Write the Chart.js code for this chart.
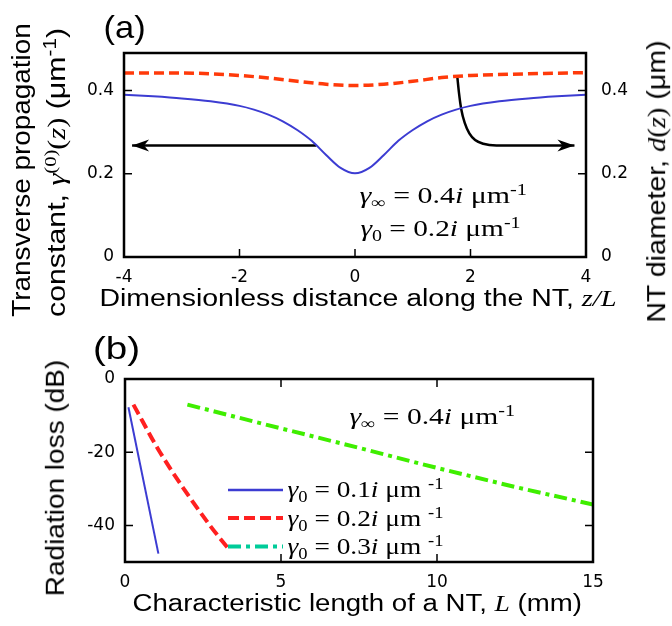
<!DOCTYPE html>
<html>
<head>
<meta charset="utf-8">
<script src="https://cdn.jsdelivr.net/npm/chart.js@4.4.1/dist/chart.umd.min.js"></script>
<style>
  html, body { margin: 0; padding: 0; background: #fff; }
  #fig { position: relative; width: 672px; height: 626px; overflow: hidden; }
  canvas { position: absolute; left: 0; }
  .lbl { position: absolute; white-space: nowrap; line-height: 1; color: #000;
         font-family: "Liberation Sans", Arial, sans-serif; transform-origin: 50% 50%; }
  .serif { font-family: "Liberation Serif", "Times New Roman", serif; }
  .it { font-style: italic; font-family: "Liberation Serif", "Times New Roman", serif; }
  .lbl sub, .lbl sup { font-size: 0.68em; position: relative; vertical-align: baseline; }
  .lbl sub { top: 0.3em; }
  .lbl sup { top: -0.5em; }
  svg { position: absolute; left: 0; top: 0; }
</style>
</head>
<body>
<div id="fig">
  <canvas id="chartA" width="672" height="320" style="top:0"></canvas>
  <canvas id="chartB" width="672" height="306" style="top:320px"></canvas>

  <div class="lbl" id="labA" style="font-size:32px">(a)</div>
  <div class="lbl" id="ytA1" style="font-size:26px">Transverse propagation</div>
  <div class="lbl" id="ytA2" style="font-size:26px">constant, <span class="it">γ</span><sup class="serif">(0)</sup><span class="serif">(</span><span class="it">z</span><span class="serif">)</span> (μm<sup>-1</sup>)</div>
  <div class="lbl" id="ytA3" style="font-size:26px">NT diameter, <span class="it">d</span><span class="serif">(</span><span class="it">z</span><span class="serif">)</span> (μm)</div>
  <div class="lbl" id="xtA" style="font-size:23px">Dimensionless distance along the NT, <span class="it">z/L</span></div>
  <div class="lbl serif" id="mA1" style="font-size:24px"><i>γ</i><sub>∞</sub> = 0.4<i>i</i> μm<sup>-1</sup></div>
  <div class="lbl serif" id="mA2" style="font-size:24px"><i>γ</i><sub>0</sub> = 0.2<i>i</i> μm<sup>-1</sup></div>

  <div class="lbl" id="labB" style="font-size:32px">(b)</div>
  <div class="lbl" id="ytB" style="font-size:26px">Radiation loss (dB)</div>
  <div class="lbl" id="xtB" style="font-size:23px">Characteristic length of a NT, <span class="it">L</span> (mm)</div>
  <div class="lbl serif" id="mB" style="font-size:24px"><i>γ</i><sub>∞</sub> = 0.4<i>i</i> μm<sup>-1</sup></div>
  <div class="lbl serif" id="lg1" style="font-size:24px"><i>γ</i><sub>0</sub> = 0.1<i>i</i> μm <sup>-1</sup></div>
  <div class="lbl serif" id="lg2" style="font-size:24px"><i>γ</i><sub>0</sub> = 0.2<i>i</i> μm <sup>-1</sup></div>
  <div class="lbl serif" id="lg3" style="font-size:24px"><i>γ</i><sub>0</sub> = 0.3<i>i</i> μm <sup>-1</sup></div>
  <svg width="672" height="626" id="legendSvg"></svg>
</div>

<script>
// ---- panel (a): data ----
const zA = [-4, -3.5, -3, -2.5, -2, -1.75, -1.5, -1.25, -1, -0.75, -0.5, -0.25, 0,
            0.25, 0.5, 0.75, 1, 1.25, 1.5, 1.75, 2, 2.5, 3, 3.5, 4];
const gammaA = [0.390, 0.386, 0.381, 0.374, 0.363, 0.354, 0.342, 0.326, 0.305, 0.279, 0.245, 0.214, 0.201,
                0.214, 0.245, 0.279, 0.305, 0.326, 0.342, 0.354, 0.363, 0.374, 0.381, 0.386, 0.390];
const zDiam = [-4, -3, -2.5, -2, -1.5, -1, -0.5, 0, 0.5, 1, 1.5, 2, 3, 4];
const diamA = [0.442, 0.442, 0.440, 0.436, 0.430, 0.422, 0.415, 0.412, 0.415, 0.422, 0.431, 0.436, 0.440, 0.443];
// arrows pointing from each curve to its axis
const arrowLeftZ = [-0.67, -3.86];
const arrowLeftV = [0.268, 0.268];
const arrowRightZ = [1.77, 1.80, 1.84, 1.90, 1.98, 2.08, 2.22, 2.45, 3.80];
const arrowRightV = [0.435, 0.395, 0.355, 0.322, 0.297, 0.281, 0.272, 0.268, 0.268];
const xTicksA = [-4, -2, 0, 2, 4];
const yTicksA = [0, 0.2, 0.4];

// ---- panel (b) ----
const lenB1 = [0.11, 1.07];
const lossB1 = [-7.7, -47.7];
const lenB2 = [0.27, 1.12, 2.72, 3.31];
const lossB2 = [-7.0, -20.0, -40.0, -46.3];
const lenB3 = [2.0, 5.0, 7.5, 10.0, 12.5, 15.0];
const lossB3 = [-7.0, -13.5, -18.8, -24.3, -29.5, -34.3];
const xTicksB = [0, 5, 10, 15];
const yTicksB = [0, -20, -40];

const pts = (xs, ys) => xs.map((x, i) => ({ x: x, y: ys[i] }));
const tickFont = { family: "'DejaVu Sans', sans-serif", size: 17 };

// box + inward tick marks
const framePlugin = {
  id: 'frame',
  afterDatasetsDraw(chart, args, opts) {
    const { ctx, chartArea: a, scales } = chart;
    ctx.save();
    ctx.strokeStyle = '#000';
    ctx.lineWidth = 1.5;
    const len = 8;
    ctx.beginPath();
    (opts.xInner || []).forEach(v => {
      const px = scales.x.getPixelForValue(v);
      ctx.moveTo(px, a.bottom); ctx.lineTo(px, a.bottom - len);
      if (opts.topTicks) { ctx.moveTo(px, a.top); ctx.lineTo(px, a.top + len); }
    });
    (opts.yInner || []).forEach(v => {
      const py = scales.y.getPixelForValue(v);
      ctx.moveTo(a.left, py); ctx.lineTo(a.left + len, py);
      ctx.moveTo(a.right, py); ctx.lineTo(a.right - len, py);
    });
    ctx.stroke();
    ctx.lineWidth = 2.5;
    ctx.strokeRect(a.left, a.top, a.right - a.left, a.bottom - a.top);
    ctx.restore();
  }
};

// filled arrow heads at the end of datasets flagged with arrow:true
const arrowPlugin = {
  id: 'arrowHeads',
  afterDatasetsDraw(chart) {
    const ctx = chart.ctx;
    chart.data.datasets.forEach((ds, i) => {
      if (!ds.arrow) return;
      const els = chart.getDatasetMeta(i).data;
      const p1 = els[els.length - 1], p0 = els[els.length - 2];
      const ang = Math.atan2(p1.y - p0.y, p1.x - p0.x);
      ctx.save();
      ctx.translate(p1.x, p1.y);
      ctx.rotate(ang);
      ctx.fillStyle = '#000';
      ctx.beginPath();
      ctx.moveTo(0, 0);
      ctx.lineTo(-17, -6);
      ctx.lineTo(-12, 0);
      ctx.lineTo(-17, 6);
      ctx.closePath();
      ctx.fill();
      ctx.restore();
    });
  }
};

function fixedTicks(list) {
  return scale => { scale.ticks = list.map(v => ({ value: v })); };
}

new Chart(document.getElementById('chartA'), {
  type: 'line',
  data: {
    datasets: [
      { data: pts(zA, gammaA), yAxisID: 'y', borderColor: '#3c3cd2', borderWidth: 2,
        pointRadius: 0, cubicInterpolationMode: 'monotone' },
      { data: pts(zDiam, diamA), yAxisID: 'y2', borderColor: '#ff3a0a', borderWidth: 3.5,
        borderDash: [10, 5], pointRadius: 0, cubicInterpolationMode: 'monotone' },
      { data: pts(arrowLeftZ, arrowLeftV), yAxisID: 'y', borderColor: '#000', borderWidth: 2.5,
        pointRadius: 0, arrow: true },
      { data: pts(arrowRightZ, arrowRightV), yAxisID: 'y', borderColor: '#000', borderWidth: 2.5,
        pointRadius: 0, cubicInterpolationMode: 'monotone', arrow: true }
    ]
  },
  options: {
    responsive: false,
    animation: false,
    layout: { padding: { top: 53, left: 0, right: 0, bottom: 0 } },
    plugins: {
      legend: { display: false }, tooltip: { enabled: false },
      frame: { xInner: [-2, 0, 2], yInner: [0.2, 0.4], topTicks: false }
    },
    scales: {
      x: { type: 'linear', min: -4, max: 4, afterBuildTicks: fixedTicks(xTicksA),
           afterFit: s => { s.height = 63; },
           grid: { display: false, drawTicks: false }, border: { display: false },
           ticks: { font: tickFont, color: '#000', padding: 10, maxRotation: 0 } },
      y: { min: 0, max: 0.49, afterBuildTicks: fixedTicks(yTicksA),
           afterFit: s => { s.width = 124; },
           grid: { display: false, drawTicks: false }, border: { display: false },
           ticks: { font: tickFont, color: '#000', padding: 10 } },
      y2: { position: 'right', min: 0, max: 0.49, afterBuildTicks: fixedTicks(yTicksA),
            afterFit: s => { s.width = 86; },
            grid: { display: false, drawTicks: false }, border: { display: false },
            ticks: { font: tickFont, color: '#000', padding: 15 } }
    }
  },
  plugins: [framePlugin, arrowPlugin]
});

new Chart(document.getElementById('chartB'), {
  type: 'line',
  data: {
    datasets: [
      { data: pts(lenB1, lossB1), borderColor: '#3c3cd2', borderWidth: 2, pointRadius: 0 },
      { data: pts(lenB2, lossB2), borderColor: '#ff2020', borderWidth: 4, borderDash: [11, 5],
        pointRadius: 0, cubicInterpolationMode: 'monotone' },
      { data: pts(lenB3, lossB3), borderColor: '#3fee00', borderWidth: 4, borderDash: [13, 5, 4, 5],
        pointRadius: 0 }
    ]
  },
  options: {
    responsive: false,
    animation: false,
    layout: { padding: { top: 59, left: 0, right: 0, bottom: 0 } },
    plugins: {
      legend: { display: false }, tooltip: { enabled: false },
      frame: { xInner: [5, 10], yInner: [-20, -40], topTicks: true }
    },
    scales: {
      x: { type: 'linear', min: 0, max: 15, afterBuildTicks: fixedTicks(xTicksB),
           afterFit: s => { s.height = 64; },
           grid: { display: false, drawTicks: false }, border: { display: false },
           ticks: { font: tickFont, color: '#000', padding: 10, maxRotation: 0 } },
      y: { min: -50, max: 0, afterBuildTicks: fixedTicks(yTicksB),
           afterFit: s => { s.width = 125; },
           grid: { display: false, drawTicks: false }, border: { display: false },
           ticks: { font: tickFont, color: '#000', padding: 10 } },
      yR: { position: 'right', min: -50, max: 0, display: true,
            afterFit: s => { s.width = 79; },
            grid: { display: false, drawTicks: false }, border: { display: false },
            ticks: { display: false } }
    }
  },
  plugins: [framePlugin]
});

// legend line samples for panel (b)
const legendColors = ['#3c3cd2', '#ff2020', '#00cc99'];
const legendDash = ['', '11,5', '13,5,4,5'];
const legendWidth = [2.5, 4, 4];
const legendY = [490, 518, 546.5];
const svg = document.getElementById('legendSvg');
legendY.forEach((y, i) => {
  const ln = document.createElementNS('http://www.w3.org/2000/svg', 'line');
  ln.setAttribute('x1', 228); ln.setAttribute('x2', 283);
  ln.setAttribute('y1', y); ln.setAttribute('y2', y);
  ln.setAttribute('stroke', legendColors[i]);
  ln.setAttribute('stroke-width', legendWidth[i]);
  if (legendDash[i]) ln.setAttribute('stroke-dasharray', legendDash[i]);
  svg.appendChild(ln);
});

// place labels: centre point, target length along the text, rotation
function place(id, cx, cy, len, rot) {
  const el = document.getElementById(id);
  const w = el.offsetWidth, h = el.offsetHeight;
  el.style.left = (cx - w / 2) + 'px';
  el.style.top = (cy - h / 2) + 'px';
  el.style.transform = (rot ? 'rotate(-90deg) ' : '') + 'scaleX(' + (len / w) + ')';
}
place('labA', 124, 27, 42);
place('ytA1', 21, 170, 294, true);
place('ytA2', 57, 172, 289, true);
place('ytA3', 656, 181, 282, true);
place('xtA', 358, 298, 517);
place('mA1', 443, 195, 167);
place('mA2', 440, 228, 160);
place('labB', 116, 348, 47);
place('ytB', 55, 478, 237, true);
place('xtB', 357, 603, 450);
place('mB', 432, 416, 165);
place('lg1', 365, 489, 156);
place('lg2', 365, 518, 156);
place('lg3', 365, 546, 156);
</script>
</body>
</html>
